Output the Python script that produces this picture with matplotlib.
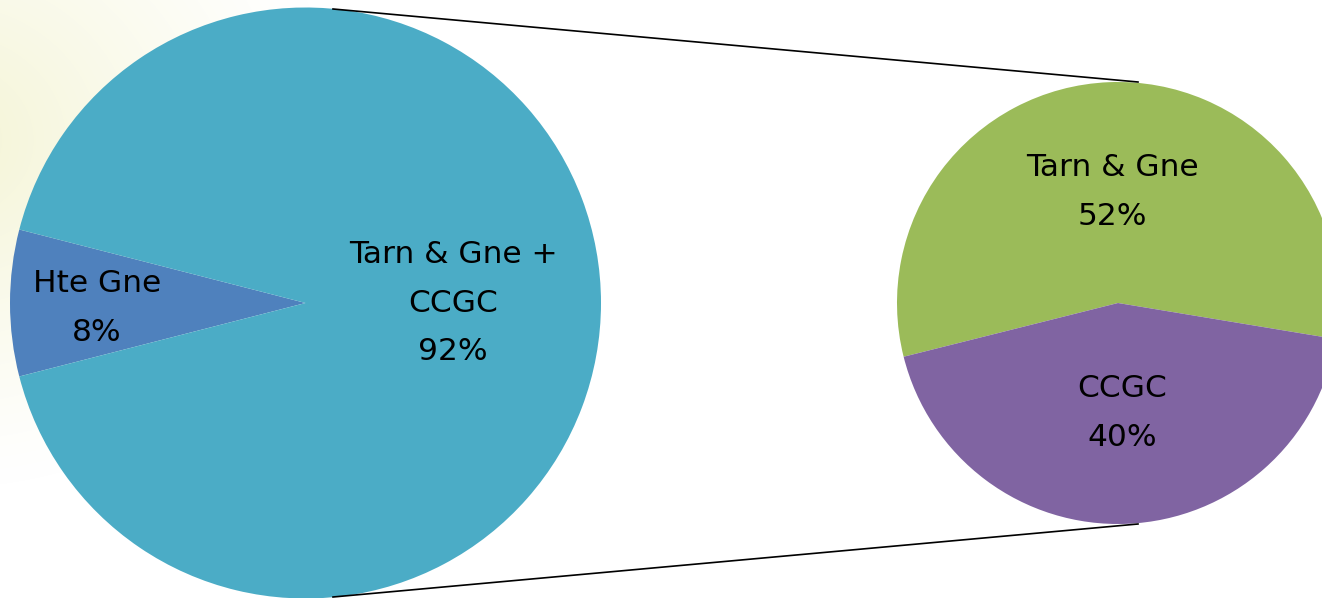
import numpy as np
import matplotlib
matplotlib.use("Agg")
import matplotlib.pyplot as plt

# ---- data ----
main_labels = ["Hte Gne", "Tarn & Gne +\nCCGC"]
main_values = [8, 92]
sub_labels = ["Tarn & Gne", "CCGC"]
sub_values = [52, 40]

main_colors = ["#4F81BD", "#4BACC6"]
sub_colors = ["#9BBB59", "#8064A2"]

W, H = 1322, 598
fig = plt.figure(figsize=(W / 100, H / 100), dpi=100)
ax = fig.add_axes([0, 0, 1, 1])

# faint yellow glow top-left background
yy, xx = np.mgrid[0:H, 0:W]
d = np.sqrt((xx + 60) ** 2 + ((yy - 140) * 1.15) ** 2)
w = np.clip(1 - d / 400, 0, 1) ** 1.2
glow = np.array([244, 244, 212]) / 255.0
img = np.ones((H, W, 3)) * (1 - w[..., None]) + glow * w[..., None]
ax.imshow(img, extent=[0, W, 0, H], origin="upper", zorder=0)

# main pie
main_center = (305.5, H - 303)
main_radius = 295.5
ax.pie(main_values, colors=main_colors, startangle=165.6, counterclock=True,
       center=main_center, radius=main_radius,
       wedgeprops=dict(linewidth=0), frame=True)

# sub pie
sub_center = (1118, H - 303)
sub_radius = 221
ax.pie(sub_values, colors=sub_colors, startangle=-9.4, counterclock=True,
       center=sub_center, radius=sub_radius,
       wedgeprops=dict(linewidth=0), frame=True)

ax.set_xlim(0, W)
ax.set_ylim(0, H)
ax.set_aspect("equal")
ax.axis("off")

# connecting lines
ax.plot([333, 1138], [H - 9, H - 82], color="black", lw=1.2, zorder=1)
ax.plot([333, 1138], [H - 597, H - 524], color="black", lw=1.2, zorder=1)

fs = 22.5
ls = 1.85
font = "DejaVu Sans"
ax.text(97, H - 308, f"{main_labels[0]}\n{main_values[0]}%", ha="center", va="center",
        fontsize=fs, linespacing=ls, family=font, zorder=5)
ax.text(453, H - 303, f"{main_labels[1]}\n{main_values[1]}%", ha="center", va="center",
        fontsize=fs, linespacing=ls, family=font, zorder=5)
ax.text(1112, H - 192, f"{sub_labels[0]}\n{sub_values[0]}%", ha="center", va="center",
        fontsize=fs, linespacing=ls, family=font, zorder=5)
ax.text(1122, H - 413, f"{sub_labels[1]}\n{sub_values[1]}%", ha="center", va="center",
        fontsize=fs, linespacing=ls, family=font, zorder=5)

fig.savefig("out.png", dpi=100)
